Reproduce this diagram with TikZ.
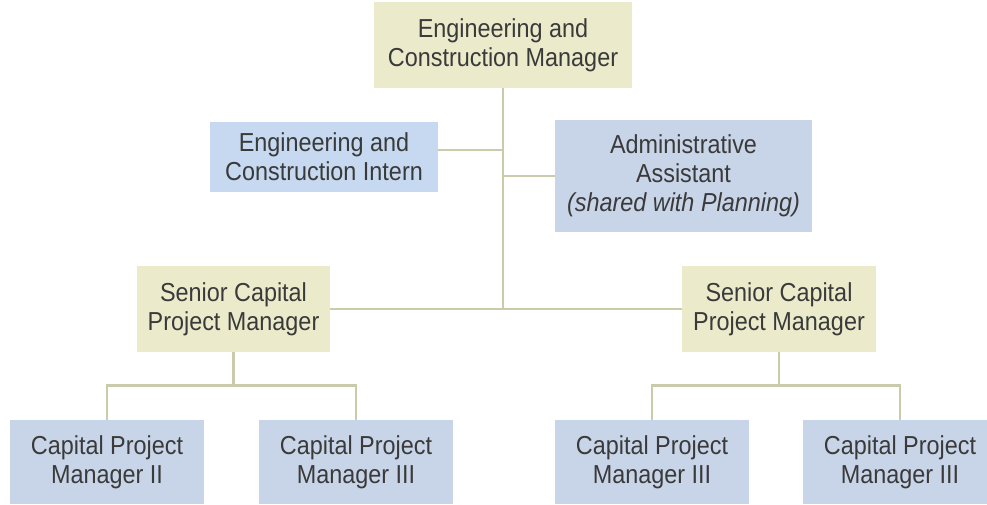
\documentclass[tikz,border=0pt]{standalone}
\usepackage{fontspec}
\setmainfont{Liberation Sans}[FakeStretch=0.9]
\usepackage{tikz}

\definecolor{khaki}{HTML}{EBEBCC}
\definecolor{paleblue}{HTML}{C6D9F1}
\definecolor{greyblue}{HTML}{C8D5E8}
\definecolor{linecol}{HTML}{C9CBAB}
\definecolor{textcol}{HTML}{3A3A3A}

\begin{document}
\begin{tikzpicture}[x=1pt,y=-1pt]
\tikzstyle{cell}=[rectangle,inner sep=0pt,align=center,text=textcol,font=\fontsize{26}{29}\selectfont]
\tikzstyle{lead}=[cell,fill=khaki]
\tikzstyle{staff}=[cell,fill=greyblue]
\tikzstyle{link}=[draw=linecol,line width=2.8pt]

\useasboundingbox (0,0) rectangle (987,504);

\node[lead,minimum width=258pt,minimum height=86pt] (ecm) at (503,45) {Engineering and\\Construction Manager} ;
\node[cell,fill=paleblue,minimum width=228pt,minimum height=70pt] (intern) at (324,157) {Engineering and\\Construction Intern} ;
\node[staff,minimum width=257pt,minimum height=112pt] (admin) at (683.5,176) {Administrative\\Assistant\\\textit{(shared with Planning)}} ;
\node[lead,minimum width=193pt,minimum height=86pt] (spm1) at (233.5,309) {Senior Capital\\Project Manager} ;
\node[lead,minimum width=194pt,minimum height=86pt] (spm2) at (779,309) {Senior Capital\\Project Manager} ;
\node[staff,minimum width=194pt,minimum height=84pt] (cpm1) at (107,462) {Capital Project\\Manager II} ;
\node[staff,minimum width=194pt,minimum height=84pt] (cpm2) at (356,462) {Capital Project\\Manager III} ;
\node[staff,minimum width=194pt,minimum height=84pt] (cpm3) at (652,462) {Capital Project\\Manager III} ;
\node[staff,minimum width=194pt,minimum height=84pt] (cpm4) at (900,462) {Capital Project\\Manager III} ;

\coordinate (hub) at (503,309) ;
\draw[link] (ecm.south) -- (hub) ;
\draw[link] (intern.east |- 0,150) -- (503,150) ;
\draw[link] (admin.west) -- (503,176) ;
\draw[link] (spm1.east) -- (spm2.west) ;
\draw[link] (spm1.south) -- ++(0,33) -| (cpm1.north) ;
\draw[link] (spm1.south) ++(0,33) -| (cpm2.north) ;
\draw[link] (spm2.south) -- ++(0,33) -| (cpm3.north) ;
\draw[link] (spm2.south) ++(0,33) -| (cpm4.north) ;

\end{tikzpicture}
\end{document}
